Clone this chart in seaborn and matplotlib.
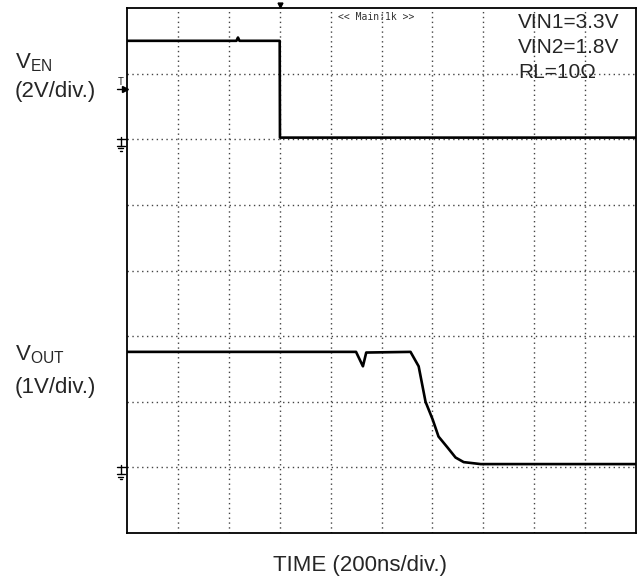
import numpy as np
import pandas as pd
import matplotlib.pyplot as plt
import matplotlib.transforms as mtransforms
import seaborn as sns

# Scope traces (time in ns, level in volts)
ven_time = [0, 430, 436, 442, 600, 601, 2000]
ven_volt = [3.0, 3.0, 3.1, 3.0, 3.0, 0.05, 0.05]

vout_time = [0, 900, 927, 940, 1114, 1146, 1173, 1201, 1224, 1260, 1291, 1323, 1390, 2000]
vout_volt = [1.76, 1.76, 1.54, 1.75, 1.76, 1.54, 1.0, 0.73, 0.47, 0.30, 0.15, 0.08, 0.05, 0.05]

# channel settings: volts per division and ground position (divisions from bottom)
ven_scale, ven_ground = 2.0, 6
vout_scale, vout_ground = 1.0, 1
trig_level = 1.54     # V on VEN channel
trig_time = 600       # ns

time_per_div = 200
n_xdiv, n_ydiv = 10, 8

labels_right = ["VIN1=3.3V", "VIN2=1.8V", "RL=10\u03a9"]

sns.set_style("white")
plt.rcParams["font.family"] = ["Liberation Sans", "DejaVu Sans"]
plt.rcParams["mathtext.fontset"] = "custom"
plt.rcParams["mathtext.rm"] = "Liberation Sans"

W, H = 639, 585
fig = plt.figure(figsize=(W / 100, H / 100), dpi=100)
ax = fig.add_axes([127 / W, 1 - 533 / H, 509 / W, 525 / H])

df = pd.concat([
    pd.DataFrame({"t": ven_time, "div": [ven_ground + v / ven_scale for v in ven_volt], "ch": "VEN"}),
    pd.DataFrame({"t": vout_time, "div": [vout_ground + v / vout_scale for v in vout_volt], "ch": "VOUT"}),
])

sns.lineplot(data=df, x="t", y="div", units="ch", estimator=None, sort=False,
             color="black", linewidth=1.9, ax=ax, legend=False)

# dotted graticule
for i in range(1, n_xdiv):
    ax.axvline(i * time_per_div, color="#444444", linewidth=1.0,
               linestyle=(0, (1, 2.5)), zorder=0)
for j in range(1, n_ydiv):
    ax.axhline(j, color="#444444", linewidth=1.0,
               linestyle=(0, (1, 2.5)), zorder=0)

ax.set_xlim(0, n_xdiv * time_per_div)
ax.set_ylim(0, n_ydiv)
ax.set_xticks([])
ax.set_yticks([])
ax.set_xlabel("")
ax.set_ylabel("")
for s in ax.spines.values():
    s.set_color("black")
    s.set_linewidth(1.3)

# ground symbols left of the screen
blend = mtransforms.blended_transform_factory(ax.transAxes, ax.transData)
for g in [ven_ground, vout_ground]:
    kw = dict(color="black", linewidth=1.0, transform=blend, clip_on=False)
    ax.plot([-0.02, 0], [g, g], **kw)
    ax.plot([-0.012, -0.012], [g + 0.04, g - 0.1], **kw)
    ax.plot([-0.02, -0.004], [g - 0.1, g - 0.1], **kw)
    ax.plot([-0.017, -0.007], [g - 0.14, g - 0.14], **kw)
    ax.plot([-0.014, -0.010], [g - 0.18, g - 0.18], **kw)

# trigger level marker
tl = ven_ground + trig_level / ven_scale
ax.plot([-0.02, -0.003], [tl, tl], color="black", linewidth=1.0,
        transform=blend, clip_on=False)
ax.plot([-0.004], [tl], marker=">", markersize=5, color="black",
        transform=blend, clip_on=False)
ax.text(-0.013, tl + 0.03, "T", fontsize=7, ha="center", va="bottom",
        transform=blend, family="DejaVu Sans Mono")

# trigger position marker on top
blend_x = mtransforms.blended_transform_factory(ax.transData, ax.transAxes)
ax.plot([trig_time], [1.006], marker="v", markersize=3.5, color="black",
        transform=blend_x, clip_on=False)

ax.text(338 / W, 1 - 17 / H, "<< Main:1k >>", transform=fig.transFigure,
        family="DejaVu Sans Mono", fontsize=7, ha="left", va="center", color="#333333")

for k, s in enumerate(labels_right):
    fig.text(518 / W, 1 - (22 + 25.5 * k) / H, s, fontsize=15, ha="left", va="center")

fig.text(15 / W, 1 - 63 / H, r"V$_{\mathrm{EN}}$", fontsize=16, ha="left", va="center")
fig.text(15 / W, 1 - 92 / H, "(2V/div.)", fontsize=16, ha="left", va="center")
fig.text(15 / W, 1 - 355 / H, r"V$_{\mathrm{OUT}}$", fontsize=16, ha="left", va="center")
fig.text(15 / W, 1 - 388 / H, "(1V/div.)", fontsize=16, ha="left", va="center")

fig.text(360 / W, 1 - 565 / H, "TIME (200ns/div.)", fontsize=16, ha="center", va="center")

fig.savefig("out.png", dpi=100)
